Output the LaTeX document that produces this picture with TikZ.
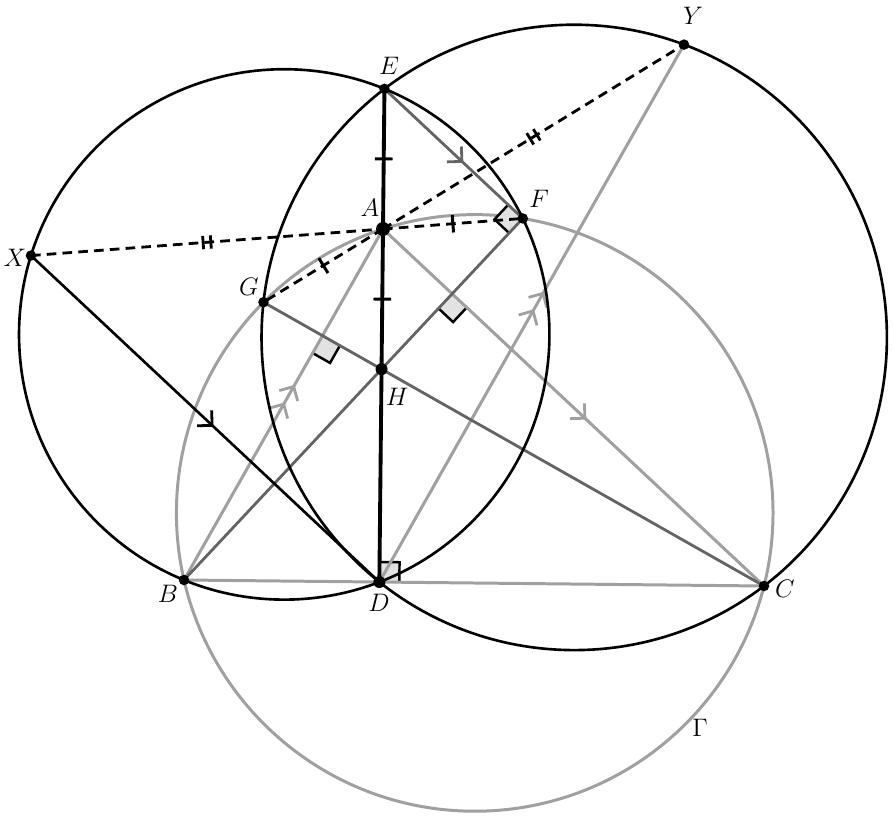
\documentclass[tikz,border=0pt]{standalone}
\usetikzlibrary{calc,decorations.markings}
\definecolor{lightg}{RGB}{160,160,160}
\definecolor{darkg}{RGB}{100,100,100}
\definecolor{rafill}{RGB}{226,226,226}
\tikzset{
  blk/.style={line width=1.5pt, black},
  blkthick/.style={line width=2.2pt, black},
  lg/.style={line width=1.7pt, lightg},
  dg/.style={line width=1.6pt, darkg},
  dsh/.style={line width=1.6pt, black, dash pattern=on 5.5pt off 3.5pt},
  onearr/.style 2 args={postaction={decorate,decoration={markings,
     mark=at position #1 with {\draw[#2,line width=1.6pt,solid] (-6pt,6pt)--(0,0)--(-6pt,-6pt);}}}},
  twoarr/.style 2 args={postaction={decorate,decoration={markings,
     mark=at position #1 with {\draw[#2,line width=1.6pt,solid] (0pt,6pt)--(6pt,0)--(0pt,-6pt) (-11.5pt,6pt)--(-5.5pt,0)--(-11.5pt,-6pt);}}}},
  onetick/.style={postaction={decorate,decoration={markings,
     mark=at position 0.5 with {\draw[black,line width=1.7pt,solid] (0,-5pt)--(0,5pt);}}}},
  twotick/.style={postaction={decorate,decoration={markings,
     mark=at position 0.5 with {\draw[black,line width=1.6pt,solid] (-2.2pt,-3.8pt)--(-2.2pt,3.8pt) (2.2pt,-3.8pt)--(2.2pt,3.8pt);}}}},
  lbl/.style={font=\fontsize{14}{16}\selectfont, inner sep=0pt},
}
\newcommand\rangmark[3]{%
  \coordinate (ra1) at ($(#1)!0.4cm!(#2)$);
  \coordinate (ra2) at ($(#1)!0.4cm!(#3)$);
  \coordinate (ra3) at ($(ra1)+(ra2)-(#1)$);
  \fill[rafill] (#1)--(ra1)--(ra3)--(ra2)--cycle;
  \draw[black,line width=1.4pt] (ra1)--(ra3)--(ra2);
}
\begin{document}
\begin{tikzpicture}[x=0.02cm,y=-0.02cm]
\useasboundingbox (0,0) rectangle (893,818);
% points
\coordinate (A) at (383,229);
\coordinate (B) at (184,580);
\coordinate (C) at (764,586);
\coordinate (D) at (379.35,582.02);
\coordinate (H) at (381.55,369.17);
\coordinate (E) at (384.45,88.83);
\coordinate (F) at (522.78,218.45);
\coordinate (G) at (263.47,302.22);
\coordinate (X) at (30.97,255.57);
\coordinate (Y) at (684.03,44.60);
\coordinate (O1) at (284.23,334.42);
\coordinate (O2) at (574.23,337.41);
\coordinate (O3) at (474.72,512.92);
\coordinate (P) at ($(A)!(B)!(C)$);
\coordinate (Q) at ($(A)!(C)!(B)$);
% circle Gamma
\draw[lg] (O3) circle[radius=5.967cm];
% right angle marks
\rangmark{D}{E}{C}
\rangmark{F}{E}{B}
\rangmark{P}{B}{C}
\rangmark{Q}{B}{C}
% light gray lines
\draw[lg, twoarr={0.525}{lightg}] (B) -- (A);
\draw[lg, onearr={0.53}{lightg}] (A) -- (C);
\draw[lg] (B) -- (C);
\draw[lg, twoarr={0.52}{lightg}] (D) -- (Y);
% dark gray lines
\draw[dg] (B) -- (F);
\draw[dg] (G) -- (C);
\draw[dg, onearr={0.56}{darkg}] (E) -- (F);
% black circles
\draw[blk] (O1) circle[radius=5.305cm];
\draw[blk] (O2) circle[radius=6.255cm];
% black lines
\draw[blk, onearr={0.52}{black}] (X) -- (D);
\draw[blkthick, onetick] (E) -- (A);
\draw[blkthick, onetick] (A) -- (H);
\draw[blkthick] (H) -- (D);
% dashed
\draw[dsh, twotick] (X) -- (A);
\draw[dsh, twotick] (A) -- (Y);
\draw[dsh, onetick] (A) -- (F);
\draw[dsh, onetick] (A) -- (G);
% dots
\fill (A) circle[radius=0.14cm];
\fill (H) circle[radius=0.12cm];
\fill (D) circle[radius=0.12cm];
\foreach \p in {B,C,E,F,G,X,Y} \fill (\p) circle[radius=0.105cm];
% labels
\node[lbl] (lE) at (389,66) {$E$};
\node[lbl] (lY) at (693,16) {$Y$};
\node[lbl] (lA) at (370,208) {$A$};
\node[lbl] (lF) at (539,199) {$F$};
\node[lbl] (lX) at (15,258) {$X$};
\node[lbl] (lG) at (249,287) {$G$};
\node[lbl] (lH) at (397,397) {$H$};
\node[lbl] (lB) at (168,594) {$B$};
\node[lbl] (lD) at (379,603) {$D$};
\node[lbl] (lC) at (785,589) {$C$};
\node[lbl] (lGa) at (700,728) {$\Gamma$};
\end{tikzpicture}
\end{document}
